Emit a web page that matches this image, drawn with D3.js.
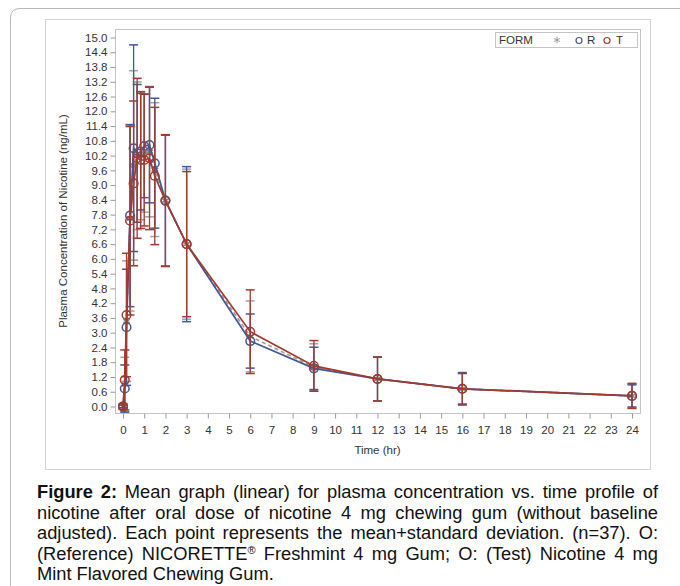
<!DOCTYPE html>
<html><head><meta charset="utf-8">
<script src="https://cdn.jsdelivr.net/npm/d3@7"></script>
<style>
html,body{margin:0;padding:0;background:#fff;}
svg{display:block;font-family:"Liberation Sans",Arial,sans-serif;}
</style></head>
<body>
<svg id="c" width="680" height="586"></svg>
<script>
// ---- data ----
const times = [0, 0.083, 0.167, 0.333, 0.5, 0.667, 0.833, 1, 1.25, 1.5, 2, 3, 6, 9, 12, 16, 24];
const meanR = [0, 0.73, 3.22, 7.76, 10.5, 10.29, 10.36, 10.59, 10.63, 9.89, 8.37, 6.6, 2.66, 1.55, 1.12, 0.72, 0.43];
const sdR   = [0.12, 0.96, 2.36, 3.7, 4.2, 2.8, 2.37, 2.1, 2.35, 2.64, 2.66, 3.15, 1.1, 0.86, 0.89, 0.66, 0.45];
const meanT = [0, 1.08, 3.72, 7.55, 9.07, 10.09, 10.02, 10.02, 10.09, 9.37, 8.37, 6.6, 3.04, 1.65, 1.12, 0.72, 0.43];
const sdT   = [0.05, 1.22, 2.51, 3.83, 3.35, 3.25, 2.78, 2.68, 2.9, 2.79, 2.68, 2.95, 1.7, 1.03, 0.89, 0.62, 0.51];
const meanAll = [0, 0.9, 3.47, 7.65, 9.8, 10.19, 10.19, 10.3, 10.36, 9.63, 8.37, 6.6, 2.85, 1.6, 1.12, 0.72, 0.43];
const sdAll   = [0.09, 1.1, 2.45, 3.77, 3.85, 3.0, 2.6, 2.4, 2.65, 2.72, 2.67, 3.05, 1.44, 0.95, 0.89, 0.64, 0.48];
const xTickLabels = ["0","1","2","3","4","5","6","7","8","9","10","11","12","13","14","15","16","17","18","19","20","21","22","23","24"];
const yTickLabels = ["0.0","0.6","1.2","1.8","2.4","3.0","3.6","4.2","4.8","5.4","6.0","6.6","7.2","7.8","8.4","9.0","9.6","10.2","10.8","11.4","12.0","12.6","13.2","13.8","14.4","15.0"];
const legendTitle = "FORM";
const legendLabels = ["R", "T"];
const xTitle = "Time (hr)";
const yTitle = "Plasma Concentration of Nicotine (ng/mL)";
const captionLines = [
  "Mean graph (linear) for plasma concentration vs. time profile of",
  "nicotine after oral dose of nicotine 4 mg chewing gum (without baseline",
  "adjusted). Each point represents the mean+standard deviation. (n=37). O:",
  "(Reference) NICORETTE\u00AE Freshmint 4 mg Gum; O: (Test) Nicotine 4 mg",
  "Mint Flavored Chewing Gum."
];
const captionBold = "Figure 2:";

// ---- layout ----
const svg = d3.select("#c");
const colR = "#445694", colT = "#A23A2E", colG = "#a0a0a0";
const frame = {l:115, t:29, r:640, b:413};
const x = d3.scaleLinear().domain([0,24]).range([123,632]);
const y = d3.scaleLinear().domain([0,15]).range([406.5,37.5]);

// outer card (top-left rounded, extends beyond right edge)
svg.append("path")
  .attr("d", "M10.5,586 L10.5,18 Q10.5,8.5 20,8.5 L680,8.5")
  .attr("fill","none").attr("stroke","#b8b8b8").attr("stroke-width",1);
// inner image box
svg.append("rect").attr("x",45.5).attr("y",19.5).attr("width",605).attr("height",450)
  .attr("fill","#fff").attr("stroke","#d2d2d2");
// plot frame
svg.append("rect").attr("x",frame.l+0.5).attr("y",frame.t+0.5)
  .attr("width",frame.r-frame.l).attr("height",frame.b-frame.t)
  .attr("fill","#fff").attr("stroke","#c4c4c4");

// axes
const xAxis = d3.axisBottom(x).tickValues(xTickLabels.map(Number)).tickFormat((d,i)=>xTickLabels[i]).tickSize(5).tickPadding(7);
const gx = svg.append("g").attr("transform",`translate(0,${frame.b+0.5})`).call(xAxis);
const yAxis = d3.axisLeft(y).tickValues(yTickLabels.map(Number)).tickFormat((d,i)=>yTickLabels[i]).tickSize(5).tickPadding(3);
const gy = svg.append("g").attr("transform",`translate(${frame.l+0.5},0)`).call(yAxis);
[gx,gy].forEach(g=>{
  g.select(".domain").remove();
  g.selectAll(".tick line").attr("stroke","#9a9a9a");
  g.selectAll(".tick text").attr("fill","#333").style("font-size","11.5px").style("font-family","'Liberation Sans',Arial,sans-serif");
});

svg.append("text").attr("x",(x(0)+x(24))/2).attr("y",454).attr("text-anchor","middle")
  .attr("fill","#333").style("font-size","11.5px").text(xTitle);
svg.append("text").attr("transform",`translate(67,${(frame.t+frame.b)/2}) rotate(-90)`)
  .attr("text-anchor","middle").attr("fill","#333").style("font-size","11.5px").text(yTitle);

// series
const series = [
  {mean:meanAll, sd:sdAll, col:colG, dash:"4,3", marker:"star"},
  {mean:meanR, sd:sdR, col:colR, dash:null, marker:"circle"},
  {mean:meanT, sd:sdT, col:colT, dash:null, marker:"circle"}
];
const capW = 4.5;
series.forEach(s=>{
  const g = svg.append("g");
  const pts = times.map((t,i)=>({t, m:s.mean[i], sd:s.sd[i]}));
  const eb = g.selectAll(".eb").data(pts).enter().append("g");
  eb.append("line").attr("x1",d=>x(d.t)).attr("x2",d=>x(d.t))
    .attr("y1",d=>y(d.m-d.sd)).attr("y2",d=>y(d.m+d.sd))
    .attr("stroke",s.col).attr("stroke-width",1.3);
  eb.append("line").attr("x1",d=>x(d.t)-capW).attr("x2",d=>x(d.t)+capW)
    .attr("y1",d=>y(d.m+d.sd)).attr("y2",d=>y(d.m+d.sd))
    .attr("stroke",s.col).attr("stroke-width",1.5);
  eb.append("line").attr("x1",d=>x(d.t)-capW).attr("x2",d=>x(d.t)+capW)
    .attr("y1",d=>y(d.m-d.sd)).attr("y2",d=>y(d.m-d.sd))
    .attr("stroke",s.col).attr("stroke-width",1.5);
  g.append("path").datum(pts)
    .attr("d", d3.line().x(d=>x(d.t)).y(d=>y(d.m)))
    .attr("fill","none").attr("stroke",s.col).attr("stroke-width",1.7)
    .attr("stroke-dasharray",s.dash);
  if (s.marker==="circle") {
    g.selectAll(".mk").data(pts).enter().append("circle")
      .attr("cx",d=>x(d.t)).attr("cy",d=>y(d.m)).attr("r",4.3)
      .attr("fill","none").attr("stroke",s.col).attr("stroke-width",1.5);
  } else {
    g.selectAll(".mk").data(pts).enter().append("path")
      .attr("transform",d=>`translate(${x(d.t)},${y(d.m)})`)
      .attr("d", d3.symbol(d3.symbolAsterisk, 40)())
      .attr("fill","none").attr("stroke","#8a8a8a").attr("stroke-width",1.6);
  }
});

// legend
const lg = svg.append("g");
lg.append("rect").attr("x",495.5).attr("y",32.5).attr("width",142).attr("height",15)
  .attr("fill","#fff").attr("stroke","#c4c4c4");
lg.append("text").attr("x",499).attr("y",44).attr("fill","#333").style("font-size","11.5px").text(legendTitle);
lg.append("path").attr("transform","translate(557,40)").attr("d",d3.symbol(d3.symbolAsterisk,30)())
  .attr("fill","none").attr("stroke",colG).attr("stroke-width",1.1);
lg.append("circle").attr("cx",579).attr("cy",40.5).attr("r",3).attr("fill","none").attr("stroke",colR).attr("stroke-width",1.2);
lg.append("text").attr("x",587).attr("y",44).attr("fill","#333").style("font-size","11.5px").text(legendLabels[0]);
lg.append("circle").attr("cx",607).attr("cy",40.5).attr("r",3).attr("fill","none").attr("stroke",colT).attr("stroke-width",1.2);
lg.append("text").attr("x",616).attr("y",44).attr("fill","#333").style("font-size","11.5px").text(legendLabels[1]);

// caption (justified)
const capL = 37, capR = 658, lineH = 20.5, base0 = 498;
captionLines.forEach((ln,i)=>{
  const t = svg.append("text").attr("x",capL).attr("y",base0+i*lineH)
    .attr("fill","#111").style("font-size","18.3px").style("font-family","'Liberation Sans',Arial,sans-serif")
    .attr("xml:space","preserve");
  if (i===0) {
    t.append("tspan").style("font-weight","bold").text(captionBold);
    t.append("tspan").text(" " + ln);
  } else if (ln.indexOf("\u00AE")>=0) {
    const parts = ln.split("\u00AE");
    t.append("tspan").text(parts[0]);
    t.append("tspan").style("font-size","11px").attr("dy",-6).text("\u00AE");
    t.append("tspan").attr("dy",6).text(parts[1]);
  } else {
    t.text(ln);
  }
  if (i < captionLines.length-1) {
    const w = t.node().getComputedTextLength();
    const full = (i===0 ? captionBold+" "+ln : ln);
    const spaces = (full.match(/ /g)||[]).length;
    const extra = Math.max(0,(capR-capL - w)/spaces);
    t.style("word-spacing", extra+"px");
  }
});
</script>
</body></html>
